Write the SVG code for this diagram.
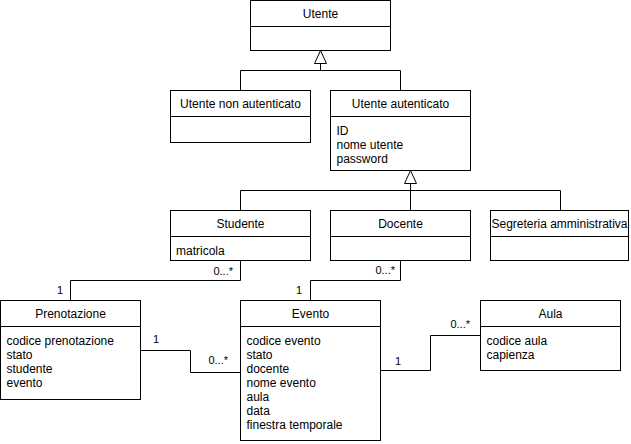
<svg xmlns="http://www.w3.org/2000/svg" width="631" height="444" viewBox="0 0 631 444">
<style>
.box{fill:#fff;stroke:#000;stroke-width:1}
.sep{stroke:#000;stroke-width:1}
.t{font-family:"Liberation Sans",Arial,sans-serif;font-size:12px;fill:#000}
.c{text-anchor:middle}
.l{font-family:"Liberation Sans",Arial,sans-serif;font-size:11px;fill:#000}
.e{text-anchor:end}
.ln{fill:none;stroke:#000;stroke-width:1}
.tri{fill:#fff;stroke:#000;stroke-width:1}
</style>
<rect width="631" height="444" fill="#fff"/>
<g id="connectors">
  <polyline class="ln" points="240.5,90.5 240.5,70.5 400.5,70.5 400.5,90.5"/>
  <line class="ln" x1="320.5" y1="70.5" x2="320.5" y2="63.5"/>
  <polygon class="tri" points="320.5,50.5 326.5,63.5 314.5,63.5"/>
  <polyline class="ln" points="240.5,210.5 240.5,190.5 560.5,190.5 560.5,210.5"/>
  <line class="ln" x1="410.5" y1="183.5" x2="410.5" y2="210.5"/>
  <polygon class="tri" points="410.5,170.5 416.5,183.5 404.5,183.5"/>
  <polyline class="ln" points="240.5,260.5 240.5,280.5 70.5,280.5 70.5,300.5"/>
  <text class="l e" x="233" y="275">0...*</text>
  <text class="l e" x="63" y="294">1</text>
  <polyline class="ln" points="400.5,260.5 400.5,280.5 310.5,280.5 310.5,300.5"/>
  <text class="l e" x="395" y="274">0...*</text>
  <text class="l e" x="302" y="294">1</text>
  <polyline class="ln" points="140.5,350.5 190.5,350.5 190.5,372.5 240.5,372.5"/>
  <text class="l" x="153" y="343">1</text>
  <text class="l e" x="228" y="364">0...*</text>
  <polyline class="ln" points="380.5,370.5 430.5,370.5 430.5,335.5 480.5,335.5"/>
  <text class="l" x="395" y="365">1</text>
  <text class="l e" x="470" y="327.5">0...*</text>
</g>
<g id="utente">
  <rect class="box" x="250.5" y="0.5" width="140" height="50"/>
  <line class="sep" x1="250.5" y1="26.5" x2="390.5" y2="26.5"/>
  <text class="t c" x="320.5" y="18">Utente</text>
</g>
<g id="utente-non-autenticato">
  <rect class="box" x="170.5" y="90.5" width="140" height="52"/>
  <line class="sep" x1="170.5" y1="116.5" x2="310.5" y2="116.5"/>
  <text class="t c" x="240.5" y="108">Utente non autenticato</text>
</g>
<g id="utente-autenticato">
  <rect class="box" x="330.5" y="90.5" width="140" height="80"/>
  <line class="sep" x1="330.5" y1="116.5" x2="470.5" y2="116.5"/>
  <text class="t c" x="400.5" y="108">Utente autenticato</text>
  <text class="t" x="336.5" y="134.5">ID</text>
  <text class="t" x="336.5" y="148.5">nome utente</text>
  <text class="t" x="336.5" y="162.5">password</text>
</g>
<g id="studente">
  <rect class="box" x="170.5" y="210.5" width="140" height="50"/>
  <line class="sep" x1="170.5" y1="236.5" x2="310.5" y2="236.5"/>
  <text class="t c" x="240.5" y="228">Studente</text>
  <text class="t" x="176" y="254.5">matricola</text>
</g>
<g id="docente">
  <rect class="box" x="330.5" y="210.5" width="140" height="50"/>
  <line class="sep" x1="330.5" y1="236.5" x2="470.5" y2="236.5"/>
  <text class="t c" x="400.5" y="228">Docente</text>
</g>
<g id="segreteria">
  <rect class="box" x="490.5" y="210.5" width="138" height="50"/>
  <line class="sep" x1="490.5" y1="236.5" x2="628.5" y2="236.5"/>
  <text class="t c" x="559.5" y="228">Segreteria amministrativa</text>
</g>
<g id="prenotazione">
  <rect class="box" x="0.5" y="300.5" width="140" height="99"/>
  <line class="sep" x1="0.5" y1="326.5" x2="140.5" y2="326.5"/>
  <text class="t c" x="70.5" y="318">Prenotazione</text>
  <text class="t" x="6.5" y="344.5">codice prenotazione</text>
  <text class="t" x="6.5" y="358.5">stato</text>
  <text class="t" x="6.5" y="372.5">studente</text>
  <text class="t" x="6.5" y="386.5">evento</text>
</g>
<g id="evento">
  <rect class="box" x="240.5" y="300.5" width="140" height="140"/>
  <line class="sep" x1="240.5" y1="326.5" x2="380.5" y2="326.5"/>
  <text class="t c" x="310.5" y="318">Evento</text>
  <text class="t" x="246.5" y="344.5">codice evento</text>
  <text class="t" x="246.5" y="358.5">stato</text>
  <text class="t" x="246.5" y="372.5">docente</text>
  <text class="t" x="246.5" y="386.5">nome evento</text>
  <text class="t" x="246.5" y="400.5">aula</text>
  <text class="t" x="246.5" y="414.5">data</text>
  <text class="t" x="246.5" y="428.5">finestra temporale</text>
</g>
<g id="aula">
  <rect class="box" x="480.5" y="300.5" width="140" height="70"/>
  <line class="sep" x1="480.5" y1="326.5" x2="620.5" y2="326.5"/>
  <text class="t c" x="550.5" y="318">Aula</text>
  <text class="t" x="486.5" y="344.5">codice aula</text>
  <text class="t" x="486.5" y="358.5">capienza</text>
</g>
</svg>
